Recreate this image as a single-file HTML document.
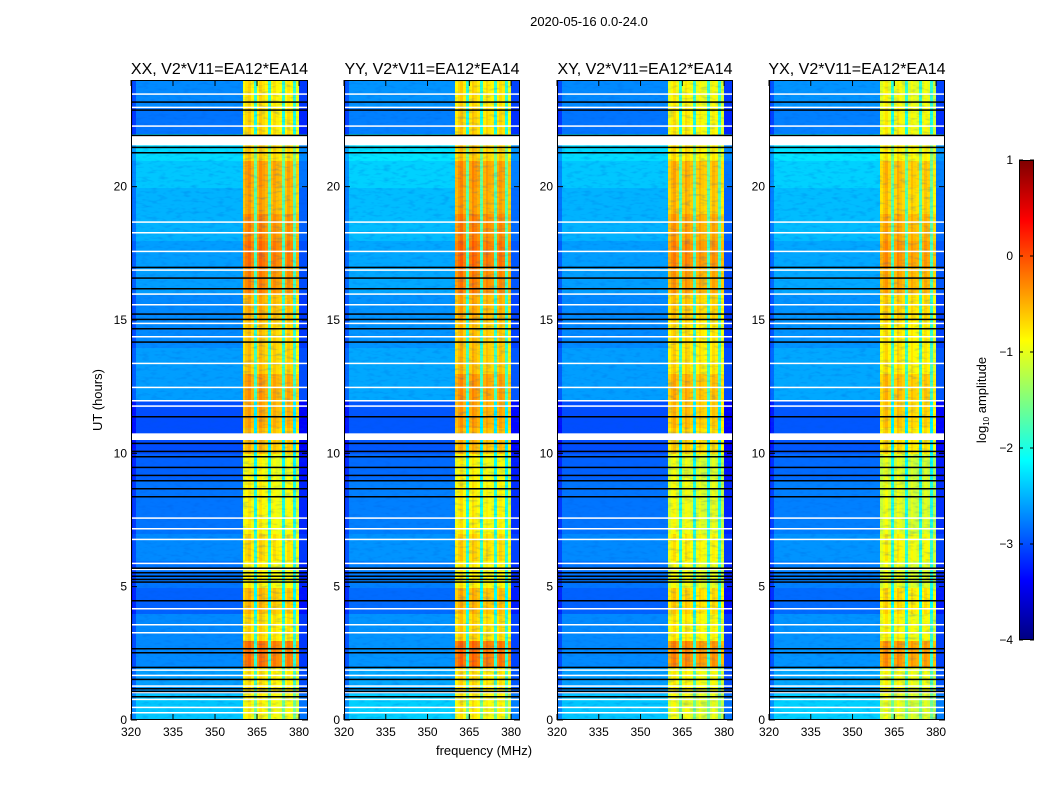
<!DOCTYPE html>
<html><head><meta charset="utf-8"><style>
body{margin:0;background:#fff;width:1050px;height:800px;overflow:hidden;font-family:"Liberation Sans",sans-serif}
#wrap{position:relative;width:1050px;height:800px}
canvas{position:absolute;image-rendering:pixelated}
svg{position:absolute;left:0;top:0}
</style></head><body>
<div id="wrap">
<canvas id="c0" width="177" height="640" style="left:131px;top:80px"></canvas>
<canvas id="c1" width="176" height="640" style="left:344px;top:80px"></canvas>
<canvas id="c2" width="176" height="640" style="left:557px;top:80px"></canvas>
<canvas id="c3" width="176" height="640" style="left:769px;top:80px"></canvas>
<canvas id="cb" width="15" height="480" style="left:1019px;top:160px"></canvas>
<svg id="ov" width="1050" height="800">
<defs><filter id="tex" x="0" y="0" width="100%" height="100%"><feTurbulence type="fractalNoise" baseFrequency="0.12 0.35" numOctaves="2" seed="3"/><feColorMatrix type="matrix" values="0 0 0 0 0  0 0 0 0 0.1  0 0 0 0 0.7  0 0 0 2.2 -1.1"/></filter></defs>
<text x="589" y="26" font-size="13" text-anchor="middle">2020-05-16 0.0-24.0</text>
<text x="102" y="400" font-size="13" text-anchor="middle" transform="rotate(-90 102 400)">UT (hours)</text>
<text x="484" y="755" font-size="13" text-anchor="middle">frequency (MHz)</text>
<text x="986" y="400" font-size="13" text-anchor="middle" transform="rotate(-90 986 400)">log<tspan font-size="8" dy="3">10</tspan><tspan dy="-3"> amplitude</tspan></text>
</svg>
</div>
<script>
const titles=["XX, V2*V11=EA12*EA14","YY, V2*V11=EA12*EA14","XY, V2*V11=EA12*EA14","YX, V2*V11=EA12*EA14"];
const panelLeft=[131,344,557,769];
const xTicks=[320,335,350,365,380];
const yTicks=[0,5,10,15,20];
const cbTicks=[1,0,-1,-2,-3,-4];
// hourly log10 amplitude levels (hour 0..23)
const bandLevel=[-1.0,-0.9,-0.35,-0.85,-0.7,-1.0,-0.85,-1.0,-1.0,-1.05,-0.7,-0.6,-0.55,-0.75,-0.75,-0.65,-0.45,-0.35,-0.45,-0.6,-0.55,-0.8,-0.85,-0.9];
const bgLevel=[-2.4,-2.6,-2.7,-2.7,-2.9,-2.8,-2.7,-2.8,-2.8,-2.9,-3.0,-3.0,-2.6,-2.6,-2.7,-2.7,-2.6,-2.6,-2.5,-2.5,-2.4,-2.3,-2.8,-2.7];
const panelBandOffset=[0,0.05,-0.1,-0.15];
const panelBgOffset=[0,0.05,0,0.05];
// per-channel (1 MHz, 320..383) offsets
const chanOffset=[-0.4,-0.3,0,0,0,0,0,0,0,0,0,0,0,0,0,0,0,0,0,0,0,0,0,0,0,0,0,0,0,0,0,0,0,0,0,0,0,0,0,0,
0.0,0.15,0.25,0.05,-1.0,0.05,0.25,0.15,0.05,-1.0,0.0,0.15,0.05,0.0,-1.0,0.0,0.15,0.05,-1.0,-0.1,-0.4,-0.4,-0.4,-0.4];
const bandChan=[40,41,42,43,44,45,46,47,48,49,50,51,52,53,54,55,56,57,58,59];
const blackLines=[23.2,22.9,21.95,21.5,21.3,17.0,16.6,16.2,15.25,15.05,14.7,14.2,11.4,10.4,10.1,9.9,9.5,9.2,9.0,8.7,8.4,5.72,5.55,5.42,5.3,5.2,4.5,2.7,2.55,2.0,1.55,1.2,1.1,0.9];
const whiteLines=[23.5,23.0,22.3,18.7,18.3,17.6,16.9,16.0,15.6,14.9,14.4,13.4,12.5,12.0,11.8,7.6,7.2,6.8,5.9,4.2,3.6,3.3,1.9,1.7,1.3,0.8,0.5,0.3];
const whiteGaps=[[21.55,21.9],[10.5,10.75],[5.62,5.68],[1.0,1.08]];

function jet(v){let t=(v+4)/5;t=Math.max(0,Math.min(1,t));
 const f=x=>Math.max(0,Math.min(1,x));
 return [f(1.5-Math.abs(4*t-3)),f(1.5-Math.abs(4*t-2)),f(1.5-Math.abs(4*t-1))].map(c=>Math.round(c*255));}
const H=640;
function xScale(f,w){return (f-320)/(383.2-320)*w;}
function yScale(h){return H-h/24*H;}
const NS="http://www.w3.org/2000/svg";
const ov=document.getElementById('ov');
function mk(tag,attrs,parent){const e=document.createElementNS(NS,tag);for(const k in attrs)e.setAttribute(k,attrs[k]);(parent||ov).appendChild(e);return e;}
for(let p=0;p<4;p++){
 const cv=document.getElementById('c'+p);const w=cv.width;const ctx=cv.getContext('2d');
 for(let r=0;r<96;r++){const hr=Math.floor(r/4);
  const y0=yScale((r+1)/4),y1=yScale(r/4);
  for(let c=0;c<64;c++){
   const inB=bandChan.indexOf(c)>=0;
   let v;
   if(inB&&chanOffset[c]<=-0.5)v=bgLevel[hr]+0.8;
   else if(inB)v=bandLevel[hr]+panelBandOffset[p]+chanOffset[c];
   else v=bgLevel[hr]+panelBgOffset[p]+chanOffset[c];
   const col=jet(v);ctx.fillStyle=`rgb(${col})`;
   const x0=xScale(320+c,w),x1=xScale(321+c,w);
   ctx.fillRect(Math.floor(x0),Math.floor(y0),Math.ceil(x1-x0)+1,Math.ceil(y1-y0)+1);}
 }
 const L=panelLeft[p];
 const g=mk('g',{});
 
 
 const tx=mk('rect',{x:L,y:80,width:w,height:640,filter:'url(#tex)',opacity:0.3},g);
 
 
 whiteLines.forEach(h=>{mk('rect',{x:L,y:80+yScale(h),width:w,height:1.5,fill:'#fff'},g);});
 whiteGaps.forEach(gp=>{mk('rect',{x:L,y:80+yScale(gp[1]),width:w,height:yScale(gp[0])-yScale(gp[1]),fill:'#fff'},g);});
 blackLines.forEach(h=>{mk('rect',{x:L,y:80+yScale(h),width:w,height:1.5,fill:'#000'},g);});
 const fr=mk('rect',{x:L+0.5,y:80.5,width:w-1,height:639,fill:'none',stroke:'#000','stroke-width':1},g);
 
 
 const t=mk('text',{x:L+w/2,y:74,'font-size':16,'text-anchor':'middle'},g);t.textContent=titles[p];
 
 
 xTicks.forEach(f=>{const x=L+xScale(f,w);
  mk('line',{x1:x,x2:x,y1:720,y2:714,stroke:'#000'},g);mk('line',{x1:x,x2:x,y1:80,y2:86,stroke:'#000'},g);
  const tl=mk('text',{x:x,y:736,'font-size':12,'text-anchor':'middle'},g);tl.textContent=f;
  
  });
 yTicks.forEach(h=>{const y=80+yScale(h);
  mk('line',{x1:L,x2:L+6,y1:y,y2:y,stroke:'#000'},g);mk('line',{x1:L+w-6,x2:L+w,y1:y,y2:y,stroke:'#000'},g);
  const tl=mk('text',{x:L-4,y:y+4,'font-size':12,'text-anchor':'end'},g);tl.textContent=h;
  
  });
}
const cb=document.getElementById('cb').getContext('2d');
for(let i=0;i<480;i++){const v=1-i/480*5;cb.fillStyle=`rgb(${jet(v)})`;cb.fillRect(0,i,15,1);}
mk('rect',{x:1019.5,y:160.5,width:14,height:479,fill:'none',stroke:'#000'});
cbTicks.forEach(v=>{const y=160+(1-v)/5*480;
 mk('line',{x1:1019,x2:1023,y1:y,y2:y,stroke:'#000'});mk('line',{x1:1030,x2:1034,y1:y,y2:y,stroke:'#000'});
 const t=mk('text',{x:1013,y:y+4,'font-size':12,'text-anchor':'end'});t.textContent=v<0?'\u2212'+(-v):v;
 
 });
</script>
</body></html>
